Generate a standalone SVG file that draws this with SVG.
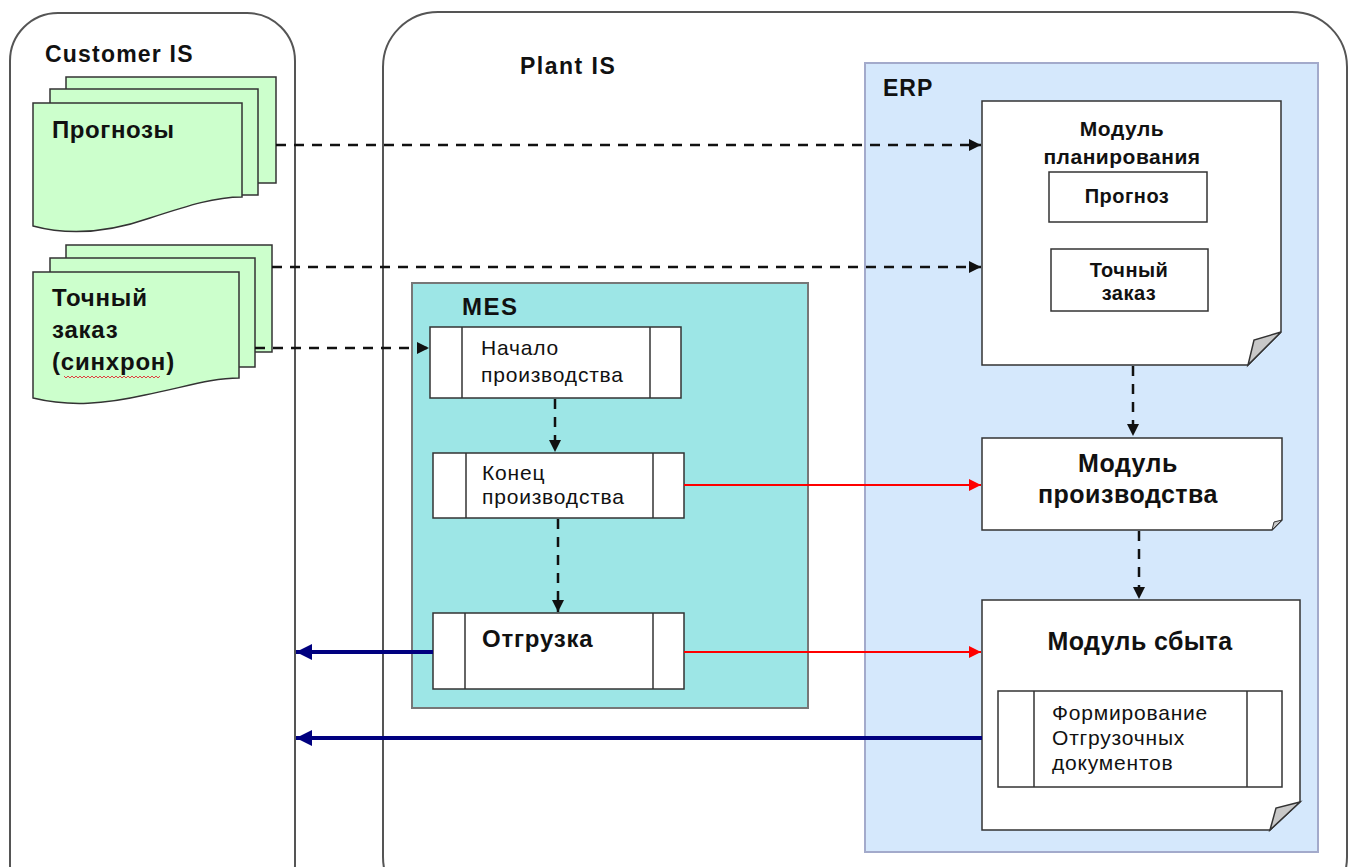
<svg xmlns="http://www.w3.org/2000/svg" width="1351" height="867" viewBox="0 0 1351 867">
<style>
.panel{fill:#ffffff;stroke:#555;stroke-width:2}
.doc{fill:#ccffcc;stroke:#333;stroke-width:1.5}
.box{fill:#ffffff;stroke:#333;stroke-width:1.5}
.t{font-family:"Liberation Sans",Arial,sans-serif;fill:#111}
.b{font-weight:bold}
.dash{fill:none;stroke:#111;stroke-width:2.5;stroke-dasharray:10,8}
.red{fill:none;stroke:#ff0000;stroke-width:2}
.navy{fill:none;stroke:#00007f;stroke-width:4}
</style>
<defs>
<marker id="ab" viewBox="0 0 10 10" refX="10" refY="5" markerWidth="5" markerHeight="5" markerUnits="strokeWidth" orient="auto"><path d="M0,0 L10,5 L0,10 Z" fill="#111"/></marker>
<marker id="ar" viewBox="0 0 10 10" refX="10" refY="5" markerWidth="6" markerHeight="6" markerUnits="strokeWidth" orient="auto"><path d="M0,0 L10,5 L0,10 Z" fill="#ff0000"/></marker>
<marker id="an" viewBox="0 0 10 10" refX="10" refY="5" markerWidth="4.5" markerHeight="4" markerUnits="strokeWidth" orient="auto"><path d="M0,0 L10,5 L0,10 Z" fill="#00007f"/></marker>
</defs>

<g id="customer-is">
<rect class="panel" x="10" y="13" width="285" height="900" rx="48" ry="48"/>
<text class="t b" x="45" y="62" font-size="23" letter-spacing="1.2">Customer IS</text>
</g>

<g id="plant-is">
<rect class="panel" x="383" y="12" width="964" height="900" rx="55" ry="55"/>
<text class="t b" x="520" y="74" font-size="23" letter-spacing="1.5">Plant IS</text>
</g>

<g id="erp">
<rect x="865" y="63" width="453" height="789" fill="#d5e8fc" stroke="#a3aacb" stroke-width="2"/>
<text class="t b" x="883" y="96" font-size="23" letter-spacing="1">ERP</text>
</g>

<g id="mes">
<rect x="412" y="283" width="396" height="425" fill="#9de6e6" stroke="#777" stroke-width="2"/>
<text class="t b" x="462" y="315" font-size="24" letter-spacing="1.5">MES</text>
</g>

<g id="forecasts">
<rect class="doc" x="66" y="77" width="210" height="106"/>
<rect class="doc" x="50" y="89" width="208" height="106"/>
<path class="doc" d="M33,103 H242 V197 C215,197 190,205 150,218 C110,232 70,236 33,226 Z"/>
<text class="t b" x="52" y="138" font-size="24" letter-spacing="0.6">Прогнозы</text>
</g>

<g id="exact-order">
<rect class="doc" x="66" y="245" width="206" height="107"/>
<rect class="doc" x="50" y="258" width="205" height="109"/>
<path class="doc" d="M33,272 H239 V378 C212,378 185,387 145,395 C105,404 70,407 33,398 Z"/>
<text class="t b" font-size="24" letter-spacing="0.8"><tspan x="52" y="306">Точный</tspan><tspan x="52" y="338">заказ</tspan><tspan x="52" y="370">(синхрон)</tspan></text>
<path d="M64,376 l2,2 2,-2 2,2 2,-2 2,2 2,-2 2,2 2,-2 2,2 2,-2 2,2 2,-2 2,2 2,-2 2,2 2,-2 2,2 2,-2 2,2 2,-2 2,2 2,-2 2,2 2,-2 2,2 2,-2 2,2 2,-2 2,2 2,-2 2,2 2,-2 2,2 2,-2 2,2 2,-2 2,2 2,-2 2,2 2,-2 2,2 2,-2 2,2 2,-2 2,2 2,-2 2,2 2,-2" fill="none" stroke="#e04040" stroke-width="1"/>
</g>

<g id="planning-module">
<path class="box" d="M982,101 H1281 V332 L1248,365 H982 Z"/>
<path d="M1281,332 L1248,365 L1254,340 Z" fill="#c8c8c8" stroke="#333" stroke-width="1.5"/>
<text class="t b" text-anchor="middle" font-size="21" letter-spacing="0.5"><tspan x="1122" y="136">Модуль</tspan><tspan x="1122" y="164">планирования</tspan></text>
<rect class="box" x="1049" y="172" width="158" height="50"/>
<text class="t b" x="1127" y="203" text-anchor="middle" font-size="20" letter-spacing="0.5">Прогноз</text>
<rect class="box" x="1051" y="249" width="157" height="62"/>
<text class="t b" text-anchor="middle" font-size="20" letter-spacing="0.5"><tspan x="1129" y="277">Точный</tspan><tspan x="1129" y="300">заказ</tspan></text>
</g>

<g id="production-module">
<path class="box" d="M982,438 H1282 V520 L1272,530 H982 Z"/>
<path d="M1282,520 L1272,530 L1274,522 Z" fill="#c8c8c8" stroke="#333" stroke-width="1"/>
<text class="t b" text-anchor="middle" font-size="25" letter-spacing="0.5"><tspan x="1128" y="472">Модуль</tspan><tspan x="1128" y="503">производства</tspan></text>
</g>

<g id="sales-module">
<path class="box" d="M982,600 H1300 V802 L1270,830 H982 Z"/>
<path d="M1300,802 L1270,830 L1276,808 Z" fill="#c8c8c8" stroke="#333" stroke-width="1.5"/>
<text class="t b" x="1140" y="650" text-anchor="middle" font-size="25" letter-spacing="0.4">Модуль сбыта</text>
<rect class="box" x="998" y="691" width="284" height="96"/>
<line x1="1034" y1="691" x2="1034" y2="787" stroke="#333" stroke-width="1.5"/>
<line x1="1247" y1="691" x2="1247" y2="787" stroke="#333" stroke-width="1.5"/>
<text class="t" font-size="21" letter-spacing="0.8"><tspan x="1052" y="720">Формирование</tspan><tspan x="1052" y="745">Отгрузочных</tspan><tspan x="1052" y="770">документов</tspan></text>
</g>

<g id="start-production">
<rect class="box" x="430" y="327" width="251" height="71"/>
<line x1="462" y1="327" x2="462" y2="398" stroke="#333" stroke-width="1.5"/>
<line x1="650" y1="327" x2="650" y2="398" stroke="#333" stroke-width="1.5"/>
<text class="t" font-size="21" letter-spacing="0.8"><tspan x="481" y="355">Начало</tspan><tspan x="481" y="382">производства</tspan></text>
</g>

<g id="end-production">
<rect class="box" x="433" y="453" width="251" height="65"/>
<line x1="466" y1="453" x2="466" y2="518" stroke="#333" stroke-width="1.5"/>
<line x1="653" y1="453" x2="653" y2="518" stroke="#333" stroke-width="1.5"/>
<text class="t" font-size="21" letter-spacing="0.8"><tspan x="482" y="480">Конец</tspan><tspan x="482" y="504">производства</tspan></text>
</g>

<g id="shipment">
<rect class="box" x="433" y="613" width="251" height="76"/>
<line x1="465" y1="613" x2="465" y2="689" stroke="#333" stroke-width="1.5"/>
<line x1="653" y1="613" x2="653" y2="689" stroke="#333" stroke-width="1.5"/>
<text class="t b" x="482" y="647" font-size="24" letter-spacing="0.8">Отгрузка</text>
</g>

<g id="connectors">
<path class="dash" d="M276,145 H981" marker-end="url(#ab)"/>
<path class="dash" d="M272,267 H981" marker-end="url(#ab)"/>
<path class="dash" d="M255,348 H429" marker-end="url(#ab)"/>
<path class="dash" d="M555,399 V452" marker-end="url(#ab)"/>
<path class="dash" d="M558,519 V612" marker-end="url(#ab)"/>
<path class="dash" d="M1133,366 V436" marker-end="url(#ab)"/>
<path class="dash" d="M1139,531 V599" marker-end="url(#ab)"/>
<path class="red" d="M684,485 H981" marker-end="url(#ar)"/>
<path class="red" d="M684,652 H981" marker-end="url(#ar)"/>
<path class="navy" d="M433,652 H296" marker-end="url(#an)"/>
<path class="navy" d="M982,738 H296" marker-end="url(#an)"/>
</g>
</svg>
